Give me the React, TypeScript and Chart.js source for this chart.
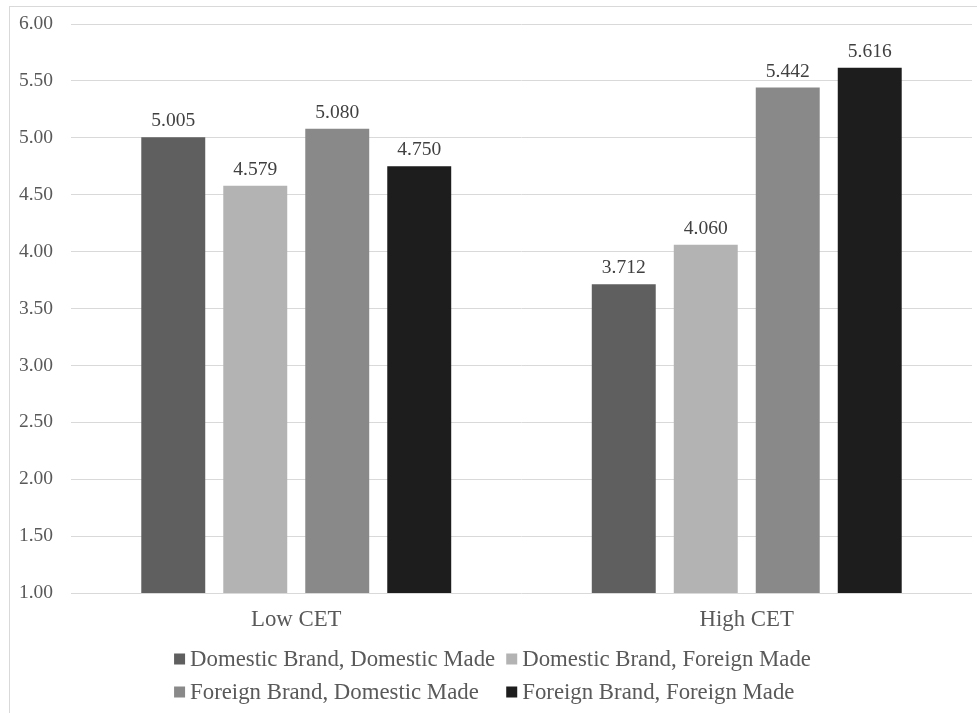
import React, { useEffect, useRef } from "react";
import { Chart, registerables } from "chart.js";

Chart.register(...registerables);

const categories = ["Low CET", "High CET"];
const seriesNames = [
  "Domestic Brand, Domestic Made",
  "Domestic Brand, Foreign Made",
  "Foreign Brand, Domestic Made",
  "Foreign Brand, Foreign Made",
];
const domesticDomestic = [5.005, 3.712];
const domesticForeign = [4.579, 4.06];
const foreignDomestic = [5.08, 5.442];
const foreignForeign = [4.75, 5.616];
const seriesColors = ["#5f5f5f", "#b3b3b3", "#898989", "#1d1d1d"];
const yMin = 1;
const yMax = 6;
const yStep = 0.5;

const FONT = '"Liberation Serif", serif';
const NUM_SIZE = 19.5;
const TEXT_SIZE = 22.8;

const dataLabelPlugin = {
  id: "dataLabels",
  afterDatasetsDraw(chart: any) {
    const ctx = chart.ctx;
    ctx.save();
    ctx.font = `${NUM_SIZE}px ${FONT}`;
    ctx.fillStyle = "#404040";
    ctx.textAlign = "center";
    ctx.textBaseline = "alphabetic";
    chart.data.datasets.forEach((ds: any, di: number) => {
      const meta = chart.getDatasetMeta(di);
      meta.data.forEach((el: any, i: number) => {
        ctx.fillText(Number(ds.data[i]).toFixed(3), el.x, el.y - 11);
      });
    });
    ctx.restore();
  },
};

const gridLegendPlugin = {
  id: "gridLegend",
  afterDraw(chart: any) {
    const ctx = chart.ctx;
    ctx.save();
    ctx.font = `${TEXT_SIZE}px ${FONT}`;
    ctx.textBaseline = "middle";
    ctx.textAlign = "left";
    const box = 11;
    const gap = 5;
    const itemGap = 11;
    const ds = chart.data.datasets;
    const w = ds.map((d: any) => box + gap + ctx.measureText(d.label).width);
    const col1 = Math.max(w[0], w[2]);
    const col2 = Math.max(w[1], w[3]);
    const total = col1 + itemGap + col2;
    const startX = chart.width / 2 + 4 - total / 2;
    const rows = [659, 692];
    ds.forEach((d: any, i: number) => {
      const row = Math.floor(i / 2);
      const col = i % 2;
      const x = col === 0 ? startX : startX + col1 + itemGap;
      const y = rows[row];
      ctx.fillStyle = d.backgroundColor;
      ctx.fillRect(x, y - box / 2, box, box);
      ctx.fillStyle = "#595959";
      ctx.fillText(d.label, x + box + gap, y + 1);
    });
    ctx.restore();
  },
};

export default function App() {
  const ref = useRef<HTMLCanvasElement>(null);
  useEffect(() => {
    if (!ref.current) return;
    let chart: any = null;
    let cancelled = false;
    const values = [domesticDomestic, domesticForeign, foreignDomestic, foreignForeign];
    const make = () => {
      if (cancelled || !ref.current) return;
      chart = new Chart(ref.current, {
        type: "bar",
        data: {
          labels: categories,
          datasets: seriesNames.map((name, i) => ({
            label: name,
            data: values[i],
            backgroundColor: seriesColors[i],
            borderWidth: 0,
            categoryPercentage: 0.728,
            barPercentage: 0.78,
          })),
        },
        options: {
          responsive: false,
          animation: false,
          layout: { padding: { top: 24, left: 0, right: 5, bottom: 0 } },
          plugins: {
            legend: { display: false },
            tooltip: { enabled: false },
          },
          scales: {
            x: {
              grid: { display: false, drawTicks: false },
              border: { display: false },
              ticks: { color: "#595959", font: { family: FONT, size: TEXT_SIZE }, padding: 13 },
              afterFit: (s: any) => {
                s.height = 120;
                s.paddingLeft = 0;
                s.paddingRight = 0;
              },
            },
            y: {
              min: yMin,
              max: yMax,
              grid: { color: "#d9d9d9", lineWidth: 1, drawTicks: false },
              border: { display: false },
              ticks: {
                stepSize: yStep,
                color: "#595959",
                font: { family: FONT, size: NUM_SIZE },
                padding: 18,
                callback: (v: any) => Number(v).toFixed(2),
              },
              afterFit: (s: any) => {
                s.width = 71;
                s.paddingTop = 0;
                s.paddingBottom = 0;
              },
            },
          },
        },
        plugins: [dataLabelPlugin, gridLegendPlugin],
      });
    };
    const fonts: any = (document as any).fonts;
    if (fonts && fonts.load) {
      fonts.load(`18px ${FONT}`).then(make, make);
    } else {
      make();
    }
    return () => {
      cancelled = true;
      if (chart) chart.destroy();
    };
  }, []);

  return (
    <div
      style={{
        position: "absolute",
        left: 0,
        top: 0,
        width: 977,
        height: 713,
        overflow: "hidden",
        background: "#fff",
        fontFamily: FONT,
      }}
    >
      <div
        style={{
          position: "absolute",
          left: 9,
          top: 6,
          width: 1000,
          height: 800,
          border: "1px solid #d9d9d9",
        }}
      />
      <canvas
        ref={ref}
        width={977}
        height={713}
        style={{ position: "absolute", left: 0, top: 0, width: 977, height: 713 }}
      />
    </div>
  );
}
